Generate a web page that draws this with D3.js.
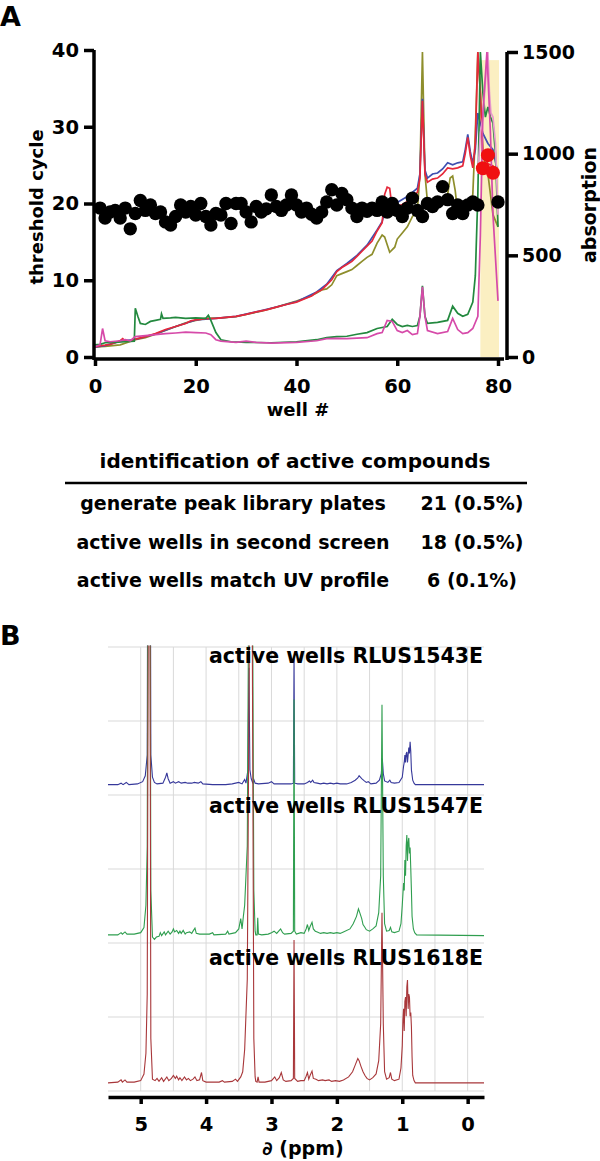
<!DOCTYPE html>
<html>
<head>
<meta charset="utf-8">
<script src="https://cdn.jsdelivr.net/npm/d3@7"></script>
<style>
  body { margin: 0; background: #fff; }
  text { font-family: "DejaVu Sans", sans-serif; font-weight: bold; fill: #000; }
</style>
</head>
<body>
<div id="chart"></div>
<script>
/* ---------- panel A data ---------- */
const wellTicks = [0, 20, 40, 60, 80];
const cycleTicks = [0, 10, 20, 30, 40];
const absTicks = [0, 500, 1000, 1500];

// threshold cycle per well (black = inactive, red = hits)
const blackWells = d3.range(1, 77).concat([80]);
const blackCycles = [
  19.4, 18.1, 18.9, 19.1, 18.1, 19.4, 16.7, 18.7, 20.4, 19.1,
  19.8, 18.7, 18.9, 17.6, 17.2, 18.3, 19.8, 18.9, 19.6, 18.5,
  20.0, 18.3, 17.2, 18.7, 18.5, 20.0, 17.4, 20.0, 20.0, 18.9,
  17.6, 19.6, 18.9, 19.3, 21.1, 19.6, 19.1, 19.8, 21.1, 19.8,
  18.9, 19.4, 18.6, 18.1, 18.9, 20.2, 21.8, 19.8, 21.3, 20.5,
  19.4, 18.3, 19.4, 19.0, 19.4, 19.1, 20.2, 18.9, 20.0, 19.1,
  18.3, 19.4, 20.7, 19.1, 18.3, 20.0, 19.6, 20.2, 22.2, 20.5,
  18.7, 19.8, 18.7, 19.8, 20.2, 19.8, 20.2
];
const redWells = [77, 78, 79];
const redCycles = [24.6, 26.3, 24.0];

// highlighted wells (yellow band)
const bandWells = [76.5, 80.2];
const bandTop = 1460;

// UV absorption traces, [well, absorption]
const traceBlue = [[0,48],[2,56],[5,78],[8,86],[12,113],[16,150],[20,182],[24,190],[28,200],[32,222],[36,246],[40,272],[44,320],[46,358],[48,425],[50,460],[52,500],[54,550],[56,625],[57,665],[58,760],[59,740],[60,760],[61,775],[62,790],[63,810],[64,830],[64.5,900],[65,1270],[65.5,920],[66,880],[67,900],[68,905],[69,925],[70,955],[71,945],[72,955],[73,960],[73.5,1020],[74,1095],[74.5,1010],[75,955],[75.5,1020],[76,1200],[77,1100],[78,1050],[79,1020],[79.5,960],[80,900]];
const traceRed = [[0,50],[1,55],[2,58],[3,62],[4,70],[5,80],[5.5,90],[6,78],[7,80],[8,88],[10,100],[12,115],[14,135],[16,150],[18,165],[19,178],[20,183],[22,188],[24,190],[26,195],[28,200],[30,210],[32,222],[34,232],[36,245],[38,258],[40,270],[42,290],[43,300],[44,318],[45,330],[46,355],[47,380],[48,420],[49,440],[50,455],[51,470],[52,495],[53,520],[54,545],[55,570],[56,620],[57,660],[57.5,800],[58,835],[58.5,830],[59,730],[60,740],[61,750],[62,765],[63,790],[64,810],[64.5,880],[65,1260],[65.5,900],[66,860],[67,875],[68,880],[69,900],[70,930],[71,925],[72,930],[73,940],[73.5,1000],[74,1080],[74.5,990],[75,930],[75.5,1050],[76,1500],[76.5,1300],[77,1000],[78,950],[79,940],[80,900]];
const traceOlive = [[0,50],[2,52],[5,60],[8,85],[10,95],[12,112],[15,140],[18,168],[20,180],[22,190],[25,192],[28,198],[30,210],[33,225],[36,245],[40,275],[42,292],[44,315],[45,330],[46,335],[47,355],[48,400],[49,410],[50,420],[51,430],[52,450],[53,470],[54,490],[55,505],[56,560],[57,600],[57.5,590],[58.5,515],[59.5,540],[60,580],[61,610],[62,640],[63,690],[64,720],[64.5,900],[65,1500],[65.5,900],[66,760],[67,735],[68,740],[69,760],[70,800],[70.5,880],[71,890],[71.5,820],[72,710],[73,700],[74,720],[75,800],[75.5,1100],[76,1500],[76.5,1300],[77,1000],[78,900],[79,700],[80,640]];
const traceGreen = [[0,60],[1,62],[2,70],[4,72],[6,75],[7.8,78],[8,240],[8.5,200],[9,165],[10,160],[11,175],[12,180],[13,185],[13.2,212],[13.5,190],[15,192],[16,195],[18,190],[20,192],[22,190],[22.5,205],[23,180],[24,120],[25,85],[27,75],[30,72],[35,70],[40,75],[44,85],[46,95],[48,100],[50,102],[52,112],[54,120],[56,140],[58,150],[59,185],[60,160],[61,150],[62,155],[63,150],[64,155],[64.5,200],[65,350],[65.5,200],[66,165],[68,170],[70,180],[71,250],[72,215],[73,200],[74,210],[75,270],[75.5,400],[76,800],[76.5,1500],[77,1300],[77.5,1180],[78,1230],[78.5,1180],[79,1150],[79.5,1000],[80,640]];
const traceMagenta = [[0,50],[1,60],[1.5,140],[2,80],[3,75],[5,80],[6,85],[7,80],[8,100],[10,105],[12,110],[14,115],[16,118],[18,122],[20,120],[22,118],[23,110],[24,85],[25,78],[28,72],[30,78],[32,72],[35,68],[40,72],[44,80],[46,90],[48,92],[50,90],[52,93],[54,95],[56,115],[57,120],[58,180],[59,175],[60,130],[61,120],[62,130],[63,110],[64,115],[64.5,200],[65,345],[65.5,200],[66,130],[68,115],[70,125],[71,190],[72,135],[73,115],[74,120],[75,140],[76,200],[76.5,600],[77,1200],[77.8,1500],[78.5,1100],[79,700],[80,276]];
const tracePink = [[76,900],[76.5,1100],[77,1180],[77.5,1350],[78,1500],[78.3,1300],[78.6,1200],[79,1180],[79.5,1050],[80,700]];

/* ---------- table data ---------- */
const tableTitle = "identification of active compounds";
const rowLabels = ["generate peak library plates", "active wells in second screen", "active wells match UV profile"];
const rowValues = ["21 (0.5%)", "18 (0.5%)", "6 (0.1%)"];

/* ---------- panel B data ---------- */
const ppmTicks = [5, 4, 3, 2, 1, 0];
const ppmGrid = [5, 4.5, 4, 3.5, 3, 2.5, 2, 1.5, 1, 0.5, 0];
const intGrid = [0, 100, 200, 300, 400, 500, 600];
const specNames = ["active wells RLUS1543E", "active wells RLUS1547E", "active wells RLUS1618E"];
const specOffsets = [414, 211, 11];

// [ppm, intensity]
const specBlue = [[5.5,0],[5.35,0],[5.3,2],[5.27,0],[5.22,3],[5.18,0],[5.05,1],[4.97,4],[4.93,12],[4.9,40],[4.878,900],[4.866,900],[4.845,40],[4.82,10],[4.79,3],[4.75,1],[4.66,2],[4.62,10],[4.6,16],[4.58,8],[4.55,2],[4.5,4],[4.47,2],[4.42,4],[4.38,2],[4.32,3],[4.28,2],[4.22,2],[4.18,3],[4.12,2],[4.08,4],[4.05,1],[3.9,0],[3.7,0],[3.6,1],[3.5,3],[3.45,1],[3.41,7],[3.39,2],[3.36,20],[3.345,158],[3.33,20],[3.31,8],[3.29,3],[3.27,7],[3.25,2],[3.2,1],[3.05,2],[3.0,4],[2.96,1],[2.7,1],[2.665,2],[2.655,170],[2.645,2],[2.6,1],[2.5,1],[2.45,3],[2.42,5],[2.4,3],[2.37,6],[2.35,3],[2.3,2],[2.25,1],[2.2,2],[2.15,1],[2.1,2],[2.05,1],[2.0,2],[1.95,1],[1.85,1],[1.78,3],[1.72,6],[1.68,9],[1.66,12],[1.62,8],[1.58,5],[1.55,3],[1.52,4],[1.48,1],[1.4,2],[1.35,6],[1.32,15],[1.305,35],[1.29,15],[1.27,5],[1.22,3],[1.19,6],[1.17,3],[1.12,2],[1.05,3],[1.0,10],[0.98,25],[0.97,30],[0.96,40],[0.95,30],[0.94,42],[0.93,44],[0.92,30],[0.91,40],[0.9,50],[0.89,42],[0.88,58],[0.87,45],[0.86,20],[0.84,6],[0.82,2],[0.8,0],[-0.25,0]];
const specGreen = [[5.5,0],[5.35,0],[5.3,3],[5.28,1],[5.24,4],[5.21,1],[5.1,1],[5.0,3],[4.95,10],[4.92,40],[4.9,120],[4.878,900],[4.866,900],[4.845,60],[4.82,-3],[4.79,-6],[4.76,-3],[4.72,-2],[4.7,3],[4.68,-1],[4.64,4],[4.62,0],[4.58,5],[4.55,1],[4.52,4],[4.5,8],[4.48,4],[4.45,6],[4.42,2],[4.4,5],[4.38,2],[4.35,6],[4.32,1],[4.3,3],[4.25,4],[4.22,2],[4.2,5],[4.17,9],[4.15,2],[4.1,1],[3.95,1],[3.9,3],[3.88,0],[3.7,1],[3.67,5],[3.65,1],[3.55,3],[3.5,8],[3.47,22],[3.45,8],[3.43,25],[3.41,40],[3.37,120],[3.322,900],[3.31,900],[3.27,60],[3.25,5],[3.24,0],[3.22,0],[3.21,23],[3.2,1],[3.15,0],[3.05,1],[3.0,3],[2.96,5],[2.92,2],[2.88,6],[2.86,8],[2.83,3],[2.8,1],[2.7,2],[2.665,5],[2.655,318],[2.645,5],[2.62,1],[2.55,3],[2.5,2],[2.47,8],[2.45,14],[2.43,6],[2.41,11],[2.38,17],[2.36,8],[2.33,5],[2.3,4],[2.25,2],[2.2,3],[2.15,2],[2.1,3],[2.05,2],[2.0,3],[1.95,2],[1.9,4],[1.8,8],[1.75,15],[1.7,25],[1.67,35],[1.65,30],[1.62,22],[1.6,14],[1.57,10],[1.55,7],[1.5,5],[1.45,8],[1.4,12],[1.36,30],[1.33,80],[1.31,311],[1.29,80],[1.27,15],[1.24,5],[1.2,6],[1.18,10],[1.16,4],[1.12,3],[1.05,5],[1.02,15],[1.0,40],[0.98,70],[0.97,60],[0.96,101],[0.95,80],[0.94,120],[0.93,135],[0.92,100],[0.91,125],[0.9,131],[0.89,110],[0.88,118],[0.87,90],[0.86,60],[0.85,25],[0.83,8],[0.81,3],[0.78,0],[-0.25,-1]];
const specRed = [[5.5,0],[5.35,1],[5.3,4],[5.28,1],[5.24,4],[5.21,1],[5.1,1],[5.0,3],[4.95,12],[4.92,40],[4.9,120],[4.876,900],[4.864,900],[4.845,60],[4.82,5],[4.78,3],[4.75,6],[4.72,2],[4.68,7],[4.65,2],[4.6,8],[4.57,3],[4.53,6],[4.5,10],[4.47,6],[4.45,9],[4.42,4],[4.4,7],[4.37,3],[4.33,8],[4.3,4],[4.27,6],[4.24,3],[4.2,5],[4.17,8],[4.14,3],[4.1,4],[4.07,14],[4.05,3],[4.0,1],[3.8,1],[3.75,3],[3.72,1],[3.6,2],[3.55,5],[3.52,2],[3.47,8],[3.44,15],[3.41,45],[3.37,140],[3.318,900],[3.306,900],[3.27,60],[3.25,8],[3.24,2],[3.22,1],[3.205,8],[3.19,1],[3.1,1],[3.0,3],[2.95,8],[2.92,3],[2.88,7],[2.85,14],[2.82,4],[2.78,2],[2.7,3],[2.665,6],[2.655,193],[2.645,6],[2.6,2],[2.55,3],[2.5,3],[2.47,9],[2.45,14],[2.43,5],[2.41,10],[2.38,16],[2.36,6],[2.32,5],[2.28,3],[2.22,4],[2.18,3],[2.12,4],[2.08,2],[2.02,3],[1.96,2],[1.9,4],[1.82,8],[1.76,15],[1.72,24],[1.68,33],[1.66,30],[1.63,22],[1.6,15],[1.57,10],[1.54,6],[1.5,4],[1.45,7],[1.4,12],[1.36,30],[1.33,80],[1.31,230],[1.29,80],[1.27,15],[1.24,5],[1.2,7],[1.18,14],[1.16,5],[1.12,3],[1.05,5],[1.02,20],[1.0,50],[0.99,85],[0.98,100],[0.97,70],[0.96,110],[0.95,116],[0.94,90],[0.93,130],[0.92,139],[0.91,100],[0.9,120],[0.89,116],[0.88,90],[0.87,95],[0.86,76],[0.85,35],[0.84,10],[0.82,3],[0.8,0],[-0.25,0]];

const svg = d3.select("#chart").append("svg")
  .attr("width", 600).attr("height", 1161);

// thick black axis look
const styleAxis = (g, size) => {
  g.selectAll("path, line").style("stroke", "#000").style("stroke-width", "3.5px");
  g.selectAll("text").style("font-size", size + "px");
};

/* ================= Panel A ================= */
const x = d3.scaleLinear().domain([0, 80]).range([95, 498]);
const yL = d3.scaleLinear().domain([0, 40]).range([357, 50]);
const yR = d3.scaleLinear().domain([0, 1500]).range([357, 52]);

svg.append("text").attr("x", 0).attr("y", 26).style("font-size", "27px").text("A");

// yellow band of active wells
svg.append("rect")
  .attr("x", x(bandWells[0]))
  .attr("width", x(bandWells[1]) - x(bandWells[0]))
  .attr("y", yR(bandTop))
  .attr("height", yR(0) - yR(bandTop))
  .attr("fill", "#fbefc2");

const line = d3.line()
  .x((d) => x(d[0]))
  .y((d) => yR(Math.min(d[1], 1500)));

const traces = [
  { data: traceOlive, color: "#8e8e2c" },
  { data: traceBlue, color: "#3e4fb0" },
  { data: traceRed, color: "#e5283a" },
  { data: traceGreen, color: "#23893f" },
  { data: tracePink, color: "#e79bcd" },
  { data: traceMagenta, color: "#d64aa9" },
];

svg.append("g")
  .selectAll("path")
  .data(traces)
  .join("path")
  .attr("fill", "none")
  .attr("stroke", (d) => d.color)
  .attr("stroke-width", 1.7)
  .attr("d", (d) => line(d.data));

// threshold cycle dots
svg.append("g")
  .selectAll("circle")
  .data(blackWells.map((w, i) => [w, blackCycles[i]]))
  .join("circle")
  .attr("cx", (d) => x(d[0]))
  .attr("cy", (d) => yL(d[1]))
  .attr("r", 6.7)
  .attr("fill", "#000");

svg.append("g")
  .selectAll("circle")
  .data(redWells.map((w, i) => [w, redCycles[i]]))
  .join("circle")
  .attr("cx", (d) => x(d[0]))
  .attr("cy", (d) => yL(d[1]))
  .attr("r", 7)
  .attr("fill", "#f01010");

// axes
const intFmt = d3.format("d");

const xAxisA = svg.append("g")
  .attr("transform", "translate(0,359)")
  .call(d3.axisBottom(x).tickValues(wellTicks).tickFormat(intFmt).tickSize(7).tickSizeOuter(0).tickPadding(13));
xAxisA.select(".domain").attr("d", "M94,0H504");
styleAxis(xAxisA, 19.5);

const yAxisL = svg.append("g")
  .attr("transform", "translate(94,0)")
  .call(d3.axisLeft(yL).tickValues(cycleTicks).tickFormat(intFmt).tickSize(10).tickSizeOuter(0).tickPadding(5));
yAxisL.select(".domain").attr("d", "M0,50V360");
styleAxis(yAxisL, 19.5);

const yAxisR = svg.append("g")
  .attr("transform", "translate(507,0)")
  .call(d3.axisRight(yR).tickValues(absTicks).tickFormat(intFmt).tickSize(11).tickSizeOuter(0).tickPadding(4));
yAxisR.select(".domain").attr("d", "M0,52V360");
styleAxis(yAxisR, 19);

svg.append("text").attr("x", 298).attr("y", 416)
  .attr("text-anchor", "middle").style("font-size", "18px").text("well #");
svg.append("text").attr("transform", "translate(43,207) rotate(-90)")
  .attr("text-anchor", "middle").style("font-size", "18px").text("threshold cycle");
svg.append("text").attr("transform", "translate(596,205) rotate(-90)")
  .attr("text-anchor", "middle").style("font-size", "19px").text("absorption");

/* ================= Table ================= */
svg.append("text").attr("x", 295).attr("y", 468)
  .attr("text-anchor", "middle").style("font-size", "20px").text(tableTitle);
svg.append("line").attr("x1", 65).attr("x2", 527).attr("y1", 483).attr("y2", 483)
  .attr("stroke", "#000").attr("stroke-width", 2.5);

const rowY = d3.scalePoint().domain(rowLabels).range([510, 587]);
svg.append("g").selectAll("text")
  .data(rowLabels).join("text")
  .attr("x", 233).attr("y", (d) => rowY(d))
  .attr("text-anchor", "middle").style("font-size", "19px").text((d) => d);
svg.append("g").selectAll("text")
  .data(rowValues).join("text")
  .attr("x", 472).attr("y", (d, i) => rowY(rowLabels[i]))
  .attr("text-anchor", "middle").style("font-size", "19px").text((d) => d);

/* ================= Panel B ================= */
svg.append("text").attr("x", 0).attr("y", 645).style("font-size", "27px").text("B");

const xp = d3.scaleLinear().domain([5.5, -0.25]).range([108, 484]);
const yp = d3.scaleLinear().domain([0, 600]).range([1091, 647]);

const grid = svg.append("g").attr("stroke", "#d9d9d9").attr("stroke-width", 1);
grid.selectAll(".v").data(ppmGrid).join("line").attr("class", "v")
  .attr("x1", (d) => xp(d)).attr("x2", (d) => xp(d))
  .attr("y1", yp(600)).attr("y2", yp(0));
grid.selectAll(".h").data(intGrid).join("line").attr("class", "h")
  .attr("x1", xp(5.5)).attr("x2", xp(-0.25))
  .attr("y1", (d) => yp(d)).attr("y2", (d) => yp(d));

svg.append("clipPath").attr("id", "nmrclip")
  .append("rect").attr("x", xp(5.5)).attr("y", yp(602))
  .attr("width", xp(-0.25) - xp(5.5)).attr("height", yp(0) - yp(602) + 4);

const spectra = [
  { data: specBlue, off: specOffsets[0], color: "#36389a" },
  { data: specGreen, off: specOffsets[1], color: "#2f9e4f" },
  { data: specRed, off: specOffsets[2], color: "#a8373a" },
];

svg.append("g").attr("clip-path", "url(#nmrclip)")
  .selectAll("path").data(spectra).join("path")
  .attr("fill", "none")
  .attr("stroke", (d) => d.color)
  .attr("stroke-width", 1.1)
  .attr("d", (s) => d3.line().x((d) => xp(d[0])).y((d) => yp(s.off + d[1]))(s.data));

const labY = [663, 813, 965];
svg.append("g").selectAll("text").data(specNames).join("text")
  .attr("x", 483).attr("y", (d, i) => labY[i])
  .attr("text-anchor", "end").style("font-size", "20.5px").text((d) => d);

const xAxisB = svg.append("g")
  .attr("transform", "translate(0,1097)")
  .call(d3.axisBottom(xp).tickValues(ppmTicks).tickFormat(intFmt).tickSize(7).tickSizeOuter(0).tickPadding(13));
styleAxis(xAxisB, 19.5);

const xl = svg.append("text").attr("x", 303).attr("y", 1155)
  .attr("text-anchor", "middle").style("font-size", "19px");
xl.append("tspan").style("font-style", "italic").text("∂");
xl.append("tspan").text(" (ppm)");
</script>
</body>
</html>
